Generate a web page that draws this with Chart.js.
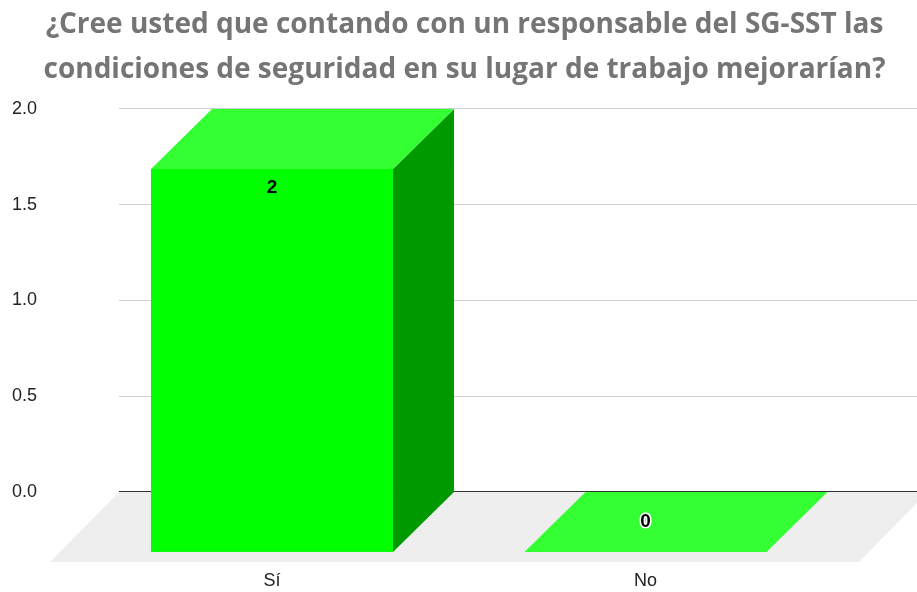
<!DOCTYPE html>
<html>
<head>
<meta charset="utf-8">
<script src="https://cdn.jsdelivr.net/npm/chart.js@4"></script>
<style>
html,body{margin:0;padding:0;background:#fff;}
#wrap{width:917px;height:592px;position:relative;}
</style>
</head>
<body>
<div id="wrap"><canvas id="c"></canvas></div>
<script>
const titleLines = ['¿Cree usted que contando con un responsable del SG-SST las', 'condiciones de seguridad en su lugar de trabajo mejorarían?'];
const categories = ['Sí', 'No'];
const values = [2, 0];
const yTicks = [0, 0.5, 1, 1.5, 2];

const bar3d = {
  id: 'bar3d',
  beforeDraw(chart) {
    const {ctx, chartArea: a, scales: {y}} = chart;
    const y0 = y.getPixelForValue(0);
    const fd = 69;
    ctx.save();
    ctx.fillStyle = '#eeeeee';
    ctx.beginPath();
    ctx.moveTo(a.left, y0);
    ctx.lineTo(a.right - 58 + fd, y0);
    ctx.lineTo(a.right - 58, a.bottom);
    ctx.lineTo(a.left - fd, a.bottom);
    ctx.closePath();
    ctx.fill();
    ctx.restore();
  },
  afterDatasetsDraw(chart) {
    const {ctx, scales: {y}} = chart;
    const meta = chart.getDatasetMeta(0);
    const y0 = y.getPixelForValue(0);
    const dx = 61, dy = 60, hw = 121;
    ctx.save();
    meta.data.forEach((el, i) => {
      const v = values[i];
      const x = el.x;
      const ft = y.getPixelForValue(v) + dy;
      const fb = y0 + dy;
      if (fb - ft > 0.5) {
        ctx.fillStyle = '#009900';
        ctx.beginPath();
        ctx.moveTo(x + hw, ft);
        ctx.lineTo(x + hw + dx, ft - dy);
        ctx.lineTo(x + hw + dx, fb - dy);
        ctx.lineTo(x + hw, fb);
        ctx.closePath();
        ctx.fill();
        ctx.fillStyle = '#00ff00';
        ctx.fillRect(x - hw, ft, hw * 2, fb - ft);
      }
      ctx.fillStyle = '#33ff33';
      ctx.beginPath();
      ctx.moveTo(x - hw, ft);
      ctx.lineTo(x + hw, ft);
      ctx.lineTo(x + hw + dx, ft - dy);
      ctx.lineTo(x - hw + dx, ft - dy);
      ctx.closePath();
      ctx.fill();
      ctx.font = 'bold 19px "Liberation Sans", Arial, sans-serif';
      ctx.textAlign = 'center';
      ctx.textBaseline = 'middle';
      const ly = v > 0 ? ft + 19 : y0 + dy / 2;
      if (v === 0) {
        ctx.lineWidth = 3;
        ctx.strokeStyle = '#ffffff';
        ctx.lineJoin = 'round';
        ctx.strokeText(String(v), x, ly);
      }
      ctx.fillStyle = '#000000';
      ctx.fillText(String(v), x, ly);
    });
    ctx.restore();
  }
};

new Chart(document.getElementById('c'), {
  type: 'bar',
  data: {
    datasets: [{
      data: values.map((v, i) => ({x: i, y: v})),
      backgroundColor: 'rgba(0,0,0,0)',
      borderWidth: 0
    }]
  },
  options: {
    responsive: true,
    maintainAspectRatio: false,
    animation: false,
    layout: {padding: {left: 12, right: 0, top: 0, bottom: 0}},
    plugins: {
      legend: {display: false},
      tooltip: {enabled: false},
      title: {
        display: true,
        text: titleLines,
        color: '#757575',
        font: {family: '"Open Sans"', size: 28, weight: 'bold', lineHeight: 1.607},
        padding: {top: 3, bottom: 16}
      }
    },
    scales: {
      x: {
        type: 'linear',
        offset: false,
        min: -0.4096,
        max: 1.727,
        grid: {display: false, offset: false, drawTicks: false, tickLength: 0},
        border: {display: false},
        afterBuildTicks: s => { s.ticks = categories.map((c, i) => ({value: i})); },
        afterFit: s => { s.height = 30; },
        ticks: {
          callback: v => categories[v],
          color: '#222',
          font: {family: '"Liberation Sans", Arial, sans-serif', size: 18},
          padding: 8,
          maxRotation: 0
        }
      },
      y: {
        min: -0.366,
        max: 2,
        afterFit: s => { s.width = 107; },
        afterBuildTicks: s => { s.ticks = yTicks.map(v => ({value: v})); },
        border: {display: false},
        grid: {
          color: c => (c.tick && c.tick.value === 0) ? '#333333' : '#cccccc',
          drawTicks: false
        },
        ticks: {
          crossAlign: 'far',
          callback: v => Number(v).toFixed(1),
          color: '#222',
          font: {family: '"Liberation Sans", Arial, sans-serif', size: 18},
          padding: 8
        }
      }
    }
  },
  plugins: [bar3d]
});
</script>
</body>
</html>
